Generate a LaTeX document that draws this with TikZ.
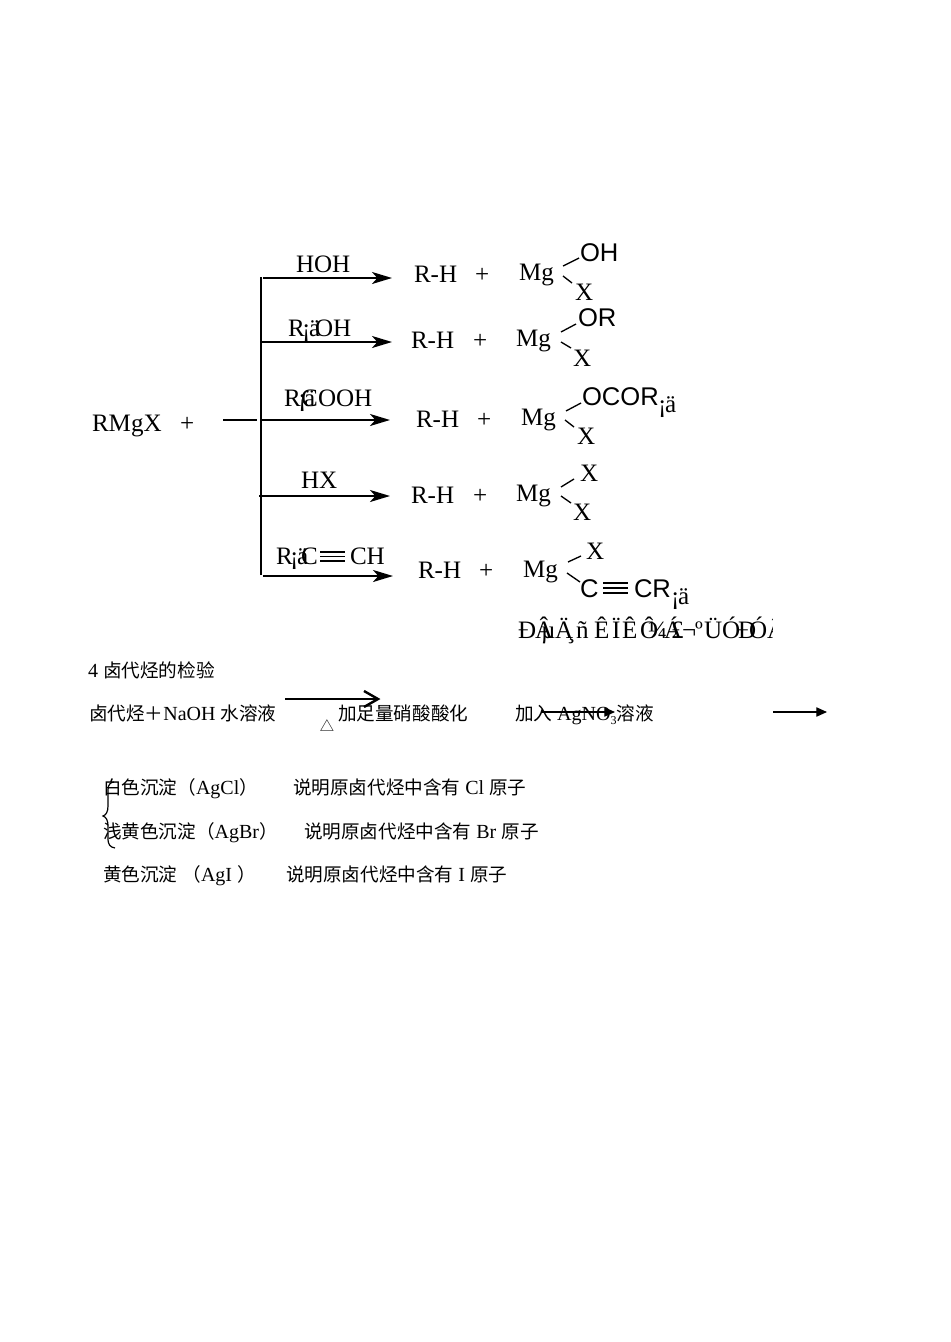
\documentclass[tikz,border=0pt]{standalone}
\usepackage{fontspec}
\setmainfont{Liberation Serif}
\newfontfamily\cjk{Noto Sans CJK SC}[Scale=0.93]
\newfontfamily\arialf{Liberation Sans}
\usetikzlibrary{arrows.meta}
\tikzset{
 big/.style={anchor=base west,inner sep=0pt,outer sep=0pt,font=\fontsize{18.8}{20}\selectfont},
 sans/.style={anchor=base west,inner sep=0pt,outer sep=0pt,font=\fontsize{19.2}{20}\selectfont\arialf},
 small/.style={anchor=base west,inner sep=0pt,outer sep=0pt,font=\fontsize{15}{16}\selectfont},
 rule/.style={line width=1.7pt},
 thin bond/.style={line width=1pt},
 bondline/.style={line width=1.2pt},
 rxn/.style={line width=1.6pt,-{Stealth[length=15pt,width=9pt,inset=4pt]}},
 plainarrow/.style={line width=0.8pt,-{Stealth[length=8pt,width=7pt,inset=0pt]}},
}
\begin{document}
\begin{tikzpicture}[x=0.75pt,y=-0.75pt]
\useasboundingbox[fill=white] (0,0) rectangle (950,1342);

% trunk and reaction arrows
\coordinate (tt) at (261,277); \coordinate (tb) at (261,575);
\draw[rule] (tt) -- (tb);
\coordinate (s0) at (223,420); \coordinate (s0e) at (257,420);
\draw[rule] (s0) -- (s0e);
\coordinate (a1) at (263,278); \coordinate (b1) at (392,278);
\coordinate (a2) at (261,342); \coordinate (b2) at (392,342);
\coordinate (a3) at (260,420); \coordinate (b3) at (390,420);
\coordinate (a4) at (259,496); \coordinate (b4) at (390,496);
\coordinate (a5) at (263,576); \coordinate (b5) at (393,576);
\draw[rxn] (a1) -- (b1);
\draw[rxn] (a2) -- (b2);
\draw[rxn] (a3) -- (b3);
\draw[rxn] (a4) -- (b4);
\draw[rxn] (a5) -- (b5);

\node[big] (rmgx) at (92,431) {RMgX};
\node[big] (plus0) at (180,431) {+};

% reagents
\node[big] (hoh) at (296,272) {HOH};
\node[big] (l2a) at (288,336) {R};
\node[big] (l2b) at (302,336) {¡};
\node[big] (l2c) at (309,336) {ä};
\node[big] (l2d) at (315,336) {OH};
\node[big] (l3a) at (284,406) {R};
\node[big] (l3b) at (298,406) {¡};
\node[big] (l3c) at (301,406) {C};
\node[big] (l3d) at (304,406) {ä};
\node[big] (l3e) at (318,406) {OOH};
\node[big] (hx) at (301,488) {HX};
\node[big] (l5a) at (276,564) {R};
\node[big] (l5b) at (290,564) {¡};
\node[big] (l5c) at (297,564) {ä};
\node[big] (l5d) at (301,564) {C};
\coordinate (t1a) at (320,552); \coordinate (t1b) at (345,552);
\coordinate (t2a) at (320,556.5); \coordinate (t2b) at (345,556.5);
\coordinate (t3a) at (320,561); \coordinate (t3b) at (345,561);
\draw[bondline] (t1a) -- (t1b) (t2a) -- (t2b) (t3a) -- (t3b);
\node[big] (l5e) at (350,564) {CH};

% row 1
\node[big] (rh1) at (414,282) {R-H};
\node[big] (p1) at (475,282) {+};
\node[big] (mg1) at (519,280) {Mg};
\node[sans] (oh1) at (580,261) {OH};
\node[big] (x1) at (575,300) {X};
\coordinate (c1a) at (563,266); \coordinate (c1b) at (579,258);
\coordinate (c1c) at (563,276); \coordinate (c1d) at (572,283);
\draw[thin bond] (c1a) -- (c1b) (c1c) -- (c1d);

% row 2
\node[big] (rh2) at (411,348) {R-H};
\node[big] (p2) at (473,348) {+};
\node[big] (mg2) at (516,346) {Mg};
\node[sans] (or2) at (578,326) {OR};
\node[big] (x2) at (573,366) {X};
\coordinate (c2a) at (561,332); \coordinate (c2b) at (576,324);
\coordinate (c2c) at (561,342); \coordinate (c2d) at (571,348);
\draw[thin bond] (c2a) -- (c2b) (c2c) -- (c2d);

% row 3
\node[big] (rh3) at (416,427) {R-H};
\node[big] (p3) at (477,427) {+};
\node[big] (mg3) at (521,425) {Mg};
\node[sans] (ocor) at (582,405) {OCOR};
\node[big] (q3a) at (658,412) {¡};
\node[big] (q3b) at (665,412) {ä};
\node[big] (x3) at (577,444) {X};
\coordinate (c3a) at (566,411); \coordinate (c3b) at (581,403);
\coordinate (c3c) at (565,420); \coordinate (c3d) at (574,427);
\draw[thin bond] (c3a) -- (c3b) (c3c) -- (c3d);

% row 4
\node[big] (rh4) at (411,503) {R-H};
\node[big] (p4) at (473,503) {+};
\node[big] (mg4) at (516,501) {Mg};
\node[big] (x4a) at (580,481) {X};
\node[big] (x4b) at (573,520) {X};
\coordinate (c4a) at (561,487); \coordinate (c4b) at (574,479);
\coordinate (c4c) at (561,496); \coordinate (c4d) at (571,503);
\draw[thin bond] (c4a) -- (c4b) (c4c) -- (c4d);

% row 5
\node[big] (rh5) at (418,578) {R-H};
\node[big] (p5) at (479,578) {+};
\node[big] (mg5) at (523,577) {Mg};
\node[big] (x5) at (586,559) {X};
\node[sans] (c5) at (580,597) {C};
\coordinate (u1a) at (603,583); \coordinate (u1b) at (628,583);
\coordinate (u2a) at (603,588); \coordinate (u2b) at (628,588);
\coordinate (u3a) at (603,593); \coordinate (u3b) at (628,593);
\draw[bondline] (u1a) -- (u1b) (u2a) -- (u2b) (u3a) -- (u3b);
\node[sans] (cr5) at (634,597) {CR};
\node[big] (q5a) at (671,604) {¡};
\node[big] (q5b) at (678,604) {ä};
\coordinate (c5a) at (568,562); \coordinate (c5b) at (581,556);
\coordinate (c5c) at (567,573); \coordinate (c5d) at (580,582);
\draw[thin bond] (c5a) -- (c5b) (c5c) -- (c5d);

% garbled caption, glyphs set one by one and cut off at the right
\begin{scope}
\clip (500,610) rectangle (772,650);
\node[big] (g01) at (518,638) {Ð};
\node[big] (g02) at (535,638) {Â};
\node[big] (g03) at (541,638) {µ};
\node[big] (g04) at (555,638) {Ä};
\node[big] (g05) at (567,638) {¸};
\node[big] (g06) at (576,638) {ñ};
\node[big] (g07) at (594,638) {Ê};
\node[big] (g08) at (612,638) {Ï};
\node[big] (g09) at (622,638) {Ê};
\node[big] (g10) at (640,638) {Ô};
\node[big] (g11) at (648,638) {¼};
\node[big] (g12) at (664,638) {Á};
\node[big] (g13) at (671,638) {£};
\node[big] (g14) at (682,638) {¬};
\node[big] (g15) at (695,638) {º};
\node[big] (g16) at (704,638) {Ü};
\node[big] (g17) at (722,638) {Ó};
\node[big] (g18) at (738,638) {Ð};
\node[big] (g19) at (749,638) {Ó};
\node[big] (g20) at (767,638) {Â};
\end{scope}

% detection section
\node[small] (h4) at (88,677) {4 {\cjk 卤代烃的检验}};
\node[small] (d1) at (89,720) {{\cjk 卤代烃＋}NaOH {\cjk 水溶液}};
\coordinate (e1a) at (285,699); \coordinate (e1b) at (378,699);
\draw[line width=0.9pt] (e1a) -- (e1b);
\coordinate (e1c) at (364,691); \coordinate (e1d) at (364,707);
\draw[line width=1.8pt] (e1c) -- (e1b) -- (e1d);
\node[anchor=center,inner sep=0pt,font=\fontsize{11.5}{12}\selectfont] (tri) at (327,726) {{\cjk △}};
\node[small] (d2) at (338,720) {{\cjk 加足量硝酸酸化}};
\node[small] (d3) at (515,720) {{\cjk 加入} AgNO\raisebox{-0.45ex}{\fontsize{9}{9}\selectfont 3}{\cjk 溶液}};
\coordinate (e2a) at (541,712); \coordinate (e2b) at (615,712);
\draw[plainarrow] (e2a) -- (e2b);
\coordinate (e3a) at (773,712); \coordinate (e3b) at (827,712);
\draw[plainarrow] (e3a) -- (e3b);

% results
\node[small] (w1) at (103,794) {{\cjk 白色沉淀（}AgCl{\cjk ）}};
\node[small] (w2) at (293,794) {{\cjk 说明原卤代烃中含有} Cl {\cjk 原子}};
\node[small] (y1) at (103,838) {{\cjk 浅黄色沉淀（}AgBr{\cjk ）}};
\node[small] (y2) at (304,838) {{\cjk 说明原卤代烃中含有} Br {\cjk 原子}};
\node[small] (z1) at (103,881) {{\cjk 黄色沉淀} {\cjk （}AgI {\cjk ）}};
\node[small] (z2) at (286,881) {{\cjk 说明原卤代烃中含有} I {\cjk 原子}};

% brace
\coordinate (br1) at (114,782); \coordinate (br2) at (103,816); \coordinate (br3) at (115,848);
\draw[line width=0.9pt] (br1) .. controls (107,783) and (108,788) .. (108,796)
   -- (108,806) .. controls (108,812) and (106,815) .. (br2)
   .. controls (106,817) and (108,820) .. (108,826)
   -- (108,838) .. controls (108,845) and (110,847) .. (br3);
\end{tikzpicture}
\end{document}
